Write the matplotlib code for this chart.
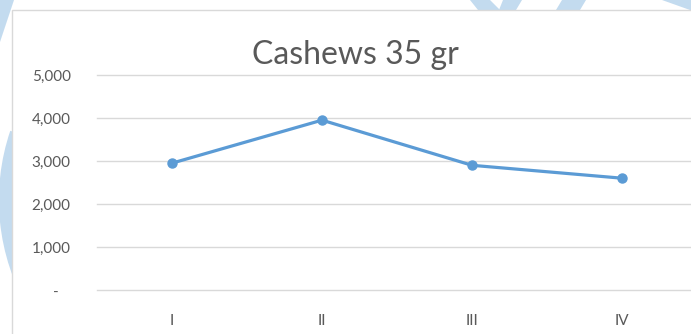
import matplotlib
matplotlib.use("Agg")
import matplotlib.pyplot as plt
from matplotlib.patches import Rectangle, Arc, Polygon

quarters = ["I", "II", "III", "IV"]
sales = [2950, 3950, 2900, 2600]
y_ticks = [0, 1000, 2000, 3000, 4000, 5000]
y_labels = ["-   ", "1,000", "2,000", "3,000", "4,000", "5,000"]

W, H = 691, 334
fig = plt.figure(figsize=(W / 100, H / 100), dpi=100)
fig.patch.set_facecolor("white")

def fx(px):
    return px / W

def fy(py):
    return 1 - py / H

# watermark behind the chart area
wm = "#c3dbef"
fig.patches.append(Arc((fx(215), fy(200)), fx(2 * 205), 2 * 205 / H, theta1=145, theta2=265,
                       transform=fig.transFigure, color=wm, lw=16, zorder=0))
for pts in [[(0, 0), (14, 0), (0, 42)],
            [(470, 0), (490, 0), (500, 10), (478, 10)],
            [(503, 0), (522, 0), (516, 10), (499, 10)],
            [(562, 0), (586, 0), (580, 10), (556, 10)],
            [(662, 0), (691, 0), (691, 10), (690, 10)]]:
    fig.patches.append(Polygon([(fx(a), fy(b)) for a, b in pts], closed=True,
                               transform=fig.transFigure, color=wm, lw=0, zorder=0))

# chart area
fig.patches.append(Rectangle((fx(12), fy(340)), fx(700), 330 / H, transform=fig.transFigure,
                             facecolor="white", edgecolor="#d9d9d9", lw=1, zorder=1))

ax = fig.add_axes([fx(97), fy(290), fx(600), 215 / H])
ax.set_facecolor("none")
ax.set_zorder(2)

x = range(len(quarters))
ax.plot(x, sales, color="#5b9bd5", lw=2.3, marker="o", markersize=6.5,
        solid_capstyle="round", zorder=3)

ax.set_xlim(-0.5, len(quarters) - 0.5)
ax.set_ylim(0, 5000)
ax.set_yticks(y_ticks)
ax.set_yticklabels(y_labels)
ax.set_xticks(list(x))
ax.set_xticklabels(quarters)
ax.grid(axis="y", color="#d9d9d9", lw=1)
for gl in ax.get_ygridlines():
    gl.set_clip_on(False)
ax.set_axisbelow(True)
for s in ax.spines.values():
    s.set_visible(False)
ax.tick_params(length=0, colors="#595959", labelsize=11)
ax.tick_params(axis="y", pad=19)
ax.tick_params(axis="x", pad=17)
for lab in ax.get_xticklabels() + ax.get_yticklabels():
    lab.set_fontfamily("Lato")

fig.text(fx(355), fy(55), "Cashews 35 gr", ha="center", va="center",
         fontsize=23, color="#595959", family="Lato")

fig.savefig("out.png", dpi=100)
